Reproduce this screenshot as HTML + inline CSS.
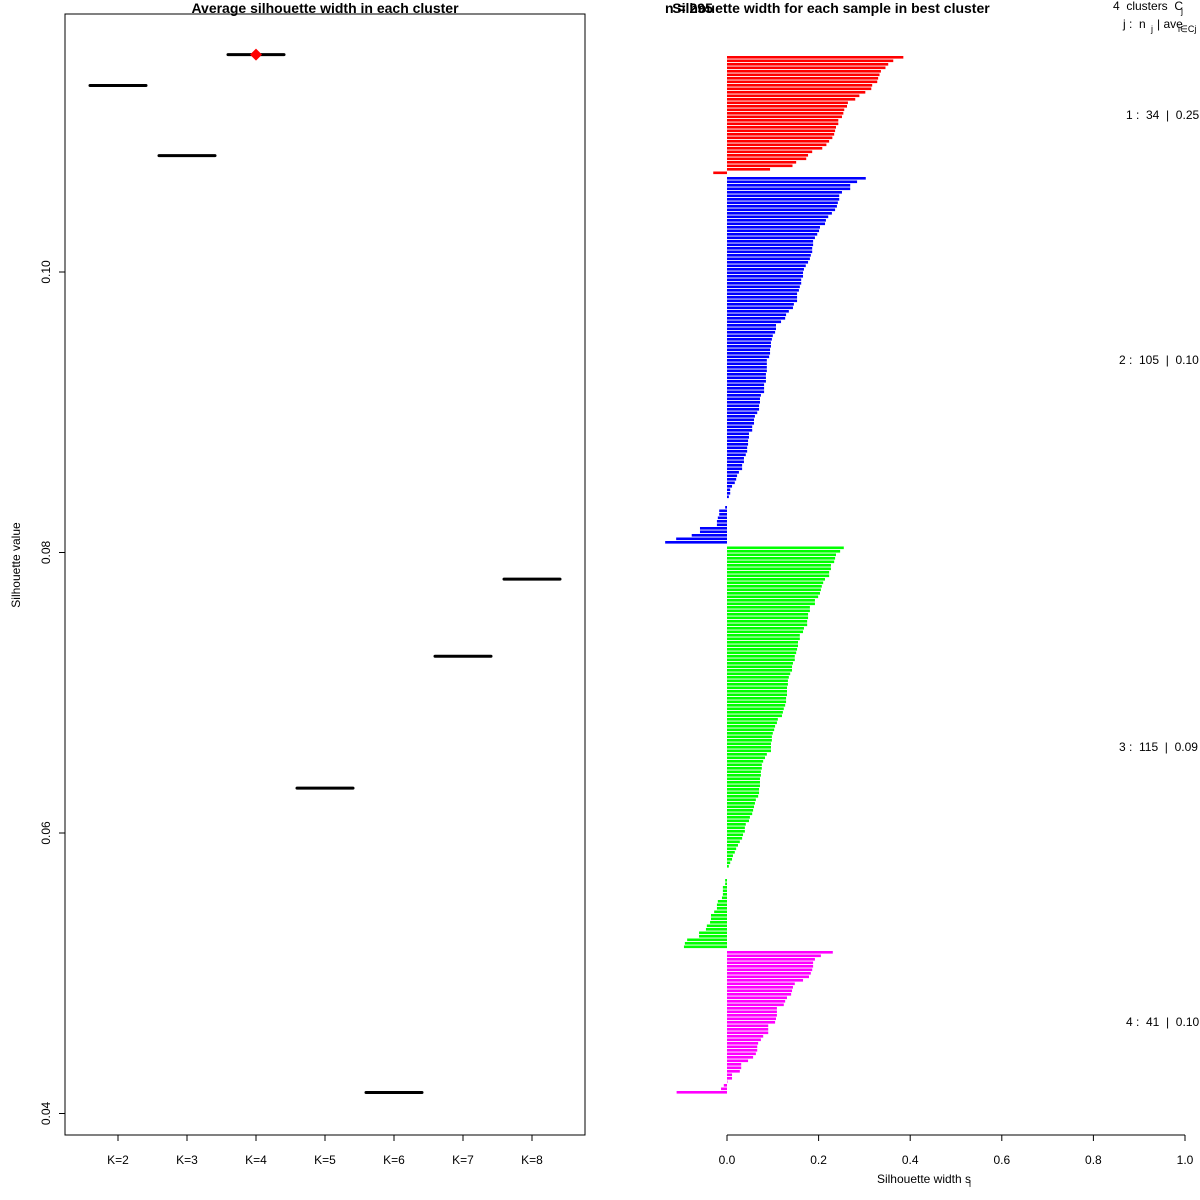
<!DOCTYPE html>
<html><head><meta charset="utf-8"><style>
html,body{margin:0;padding:0;background:#fff;}
svg{display:block;font-family:"Liberation Sans","DejaVu Sans",sans-serif;}
svg text{white-space:pre;}
</style></head><body>
<svg id="chart" width="1200" height="1200" viewBox="0 0 1200 1200"></svg>
<script>
// ---- Left chart data ----
const kLabels = ["K=2","K=3","K=4","K=5","K=6","K=7","K=8"];
const avgSil = [0.1133,0.1083,0.1155,0.0632,0.0415,0.0726,0.0781];
const bestK = 2; // index of K=4
const yTicks = [0.04,0.06,0.08,0.10];
// ---- Right chart data ----
const clusterNames = ["1","2","3","4"];
const clusterSizes = [34,105,115,41];
const clusterAvg = ["0.25","0.10","0.09","0.10"];
const clusterColors = ["#ff0000","#0000ff","#00ff00","#ff00ff"];
const sil1 = [0.385,0.363,0.352,0.346,0.336,0.333,0.330,0.328,0.317,0.315,0.302,0.289,0.280,0.264,0.262,0.256,0.254,0.251,0.243,0.243,0.238,0.236,0.234,0.230,0.223,0.217,0.208,0.186,0.177,0.173,0.151,0.143,0.094,-0.030];
const sil2 = [0.303,0.284,0.269,0.269,0.251,0.245,0.245,0.242,0.240,0.236,0.229,0.221,0.216,0.214,0.203,0.201,0.197,0.192,0.188,0.188,0.186,0.186,0.183,0.181,0.177,0.172,0.168,0.166,0.166,0.162,0.162,0.159,0.157,0.153,0.153,0.153,0.146,0.144,0.135,0.129,0.127,0.118,0.107,0.107,0.105,0.100,0.098,0.096,0.096,0.094,0.094,0.092,0.087,0.087,0.087,0.087,0.085,0.085,0.085,0.081,0.081,0.081,0.074,0.072,0.072,0.070,0.070,0.066,0.061,0.059,0.059,0.055,0.055,0.048,0.048,0.046,0.046,0.044,0.044,0.041,0.037,0.037,0.033,0.033,0.026,0.022,0.020,0.017,0.011,0.007,0.007,0.004,0,0,-0.004,-0.017,-0.017,-0.020,-0.022,-0.022,-0.059,-0.059,-0.077,-0.111,-0.135];
const sil3 = [0.255,0.247,0.238,0.236,0.234,0.227,0.227,0.223,0.223,0.214,0.210,0.207,0.205,0.203,0.199,0.192,0.192,0.181,0.181,0.177,0.177,0.175,0.175,0.168,0.166,0.159,0.159,0.155,0.155,0.153,0.151,0.148,0.148,0.144,0.142,0.142,0.138,0.135,0.133,0.133,0.131,0.131,0.131,0.129,0.129,0.127,0.124,0.122,0.120,0.111,0.109,0.105,0.103,0.100,0.098,0.098,0.096,0.096,0.096,0.087,0.083,0.079,0.076,0.076,0.074,0.074,0.072,0.072,0.072,0.070,0.070,0.068,0.063,0.061,0.059,0.057,0.055,0.050,0.048,0.041,0.039,0.039,0.035,0.033,0.028,0.024,0.020,0.017,0.013,0.011,0.007,0.004,0,0,0,-0.004,-0.004,-0.009,-0.009,-0.009,-0.011,-0.020,-0.022,-0.022,-0.028,-0.035,-0.035,-0.037,-0.044,-0.046,-0.061,-0.061,-0.087,-0.092,-0.094];
const sil4 = [0.231,0.205,0.192,0.188,0.188,0.186,0.183,0.179,0.166,0.148,0.144,0.142,0.140,0.131,0.127,0.124,0.109,0.109,0.109,0.107,0.105,0.090,0.090,0.090,0.079,0.074,0.068,0.066,0.066,0.063,0.057,0.046,0.031,0.031,0.028,0.011,0.011,0.001,-0.007,-0.013,-0.110];
const xTicks = [0,0.2,0.4,0.6,0.8,1.0];

const NS="http://www.w3.org/2000/svg";
const svg=document.getElementById('chart');
function mk(tag,attrs,parent){const e=document.createElementNS(NS,tag);for(const k in attrs)e.setAttribute(k,attrs[k]);(parent||svg).appendChild(e);return e;}
function txt(s,attrs,parent){const e=mk('text',attrs,parent);e.textContent=s;return e;}

// ---- Left panel ----
const L={x0:65,x1:585,y0:14,y1:1135};
const ly=v=>272+(0.10-v)*14025;
const lx=i=>118+i*69;
const left=mk('g',{});


const box=mk('rect',{x:L.x0,y:L.y0,width:L.x1-L.x0,height:L.y1-L.y0,fill:'none',stroke:'#000','stroke-width':1},left);


const lt=txt('Average silhouette width in each cluster',{x:325,y:13,'text-anchor':'middle','font-size':14,'font-weight':'bold'},left);


yTicks.forEach(v=>{
  const y=ly(v);
  const t=mk('line',{x1:L.x0-6,x2:L.x0,y1:y,y2:y,stroke:'#000'},left);
  
  
  const lb=txt(v.toFixed(2),{x:0,y:0,transform:`translate(50,${y}) rotate(-90)`,'text-anchor':'middle','font-size':12},left);
  
  
});
const yl=txt('Silhouette value',{transform:'translate(20,565) rotate(-90)','text-anchor':'middle','font-size':12},left);


kLabels.forEach((k,i)=>{
  const x=lx(i);
  const t=mk('line',{x1:x,x2:x,y1:L.y1,y2:L.y1+6,stroke:'#000'},left);
  
  
  const lb=txt(k,{x:x,y:1164,'text-anchor':'middle','font-size':12},left);
  
  
  const y=ly(avgSil[i]);
  const seg=mk('line',{x1:x-28,x2:x+28,y1:y,y2:y,stroke:'#000','stroke-width':3,'stroke-linecap':'round'},left);
  
  
});
{
  const x=lx(bestK),y=ly(avgSil[bestK]);
  const d=mk('polygon',{points:`${x},${y-6} ${x+6},${y} ${x},${y+6} ${x-6},${y}`,fill:'#ff0000'},left);
  
  
}

// ---- Right panel ----
const rx=v=>727+v*458;
const right=mk('g',{});


const rt=txt('Silhouette width for each sample in best cluster',{x:831,y:13,'text-anchor':'middle','font-size':14,'font-weight':'bold'},right);


const nt=txt('n = 295',{x:665,y:13,'font-size':14,'font-weight':'bold'},right);


const h1=txt('4  clusters  C',{x:1113,y:10,'font-size':12},right);


const h1s=txt('j',{x:1181,y:14,'font-size':9},right);


const h2=txt('j :  n',{x:1123,y:28,'font-size':12},right);


const h2b=txt('j',{x:1151,y:32,'font-size':9},right);


const h2c=txt('| ave',{x:1157,y:28,'font-size':12},right);


const h2d=txt('i∈Cj  s',{x:1178,y:32,'font-size':9},right);



const sils=[sil1,sil2,sil3,sil4];
const step=3.5, gap=2, barH=2.6;
let row=0;
sils.forEach((arr,c)=>{
  const startY=56+row*step+c*gap;
  arr.forEach((v,i)=>{
    const y=startY+i*step;
    const x0=Math.min(rx(0),rx(v)), w=Math.abs(rx(v)-rx(0));
    if(w<0.01) return;
    const b=mk('rect',{x:x0,y:y,width:w,height:barH,fill:clusterColors[c]},right);
    
    
  });
  const midY=startY+(arr.length-1)*step/2+5;
  const lb=txt(`${clusterNames[c]} :  ${clusterSizes[c]}  |  ${clusterAvg[c]}`,{x:c===1||c===2?1119:1126,y:midY,'font-size':12},right);
  
  
  row+=arr.length;
});
const ax=mk('line',{x1:rx(0),x2:rx(1),y1:1135,y2:1135,stroke:'#000'},right);


xTicks.forEach(v=>{
  const x=rx(v);
  const t=mk('line',{x1:x,x2:x,y1:1135,y2:1141,stroke:'#000'},right);
  
  
  const lb=txt(v.toFixed(1),{x:x,y:1164,'text-anchor':'middle','font-size':12},right);
  
  
});
const xt=txt('Silhouette width s',{x:924,y:1183,'text-anchor':'middle','font-size':12},right);


const xts=txt('i',{x:969,y:1187,'font-size':9},right);


</script>
</body></html>
